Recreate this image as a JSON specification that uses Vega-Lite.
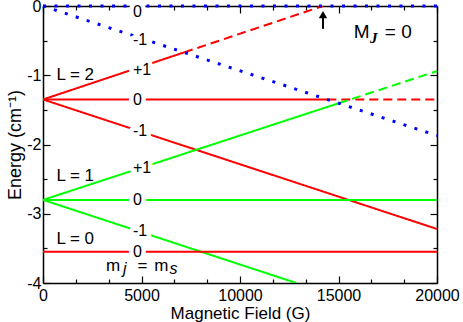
{
  "$schema": "https://vega.github.io/schema/vega-lite/v6.json",
  "autosize": "none",
  "width": 394,
  "height": 277,
  "padding": {"left": 43, "top": 6, "right": 26, "bottom": 39},
  "background": "white",
  "config": {
    "view": {"stroke": null},
    "font": "Liberation Sans",
    "axis": {"grid": false, "labelFont": "Liberation Sans", "titleFont": "Liberation Sans", "labelColor": "black", "titleColor": "black", "tickColor": "black", "domainColor": "black", "titleFontWeight": "normal"}
  },
  "datasets": {
    "levels": [
      {"seg": "L2 +1 a", "L": "L2", "part": "solid", "x": 0, "y": -1.35},
      {"seg": "L2 +1 a", "L": "L2", "part": "solid", "x": 7160, "y": -0.67},
      {"seg": "L2 +1 b", "L": "L2", "part": "dashed", "x": 7160, "y": -0.67},
      {"seg": "L2 +1 b", "L": "L2", "part": "dashed", "x": 14213, "y": 0},
      {"seg": "L2 0 a", "L": "L2", "part": "solid", "x": 0, "y": -1.35},
      {"seg": "L2 0 a", "L": "L2", "part": "solid", "x": 14431, "y": -1.35},
      {"seg": "L2 0 b", "L": "L2", "part": "dashed", "x": 14431, "y": -1.35},
      {"seg": "L2 0 b", "L": "L2", "part": "dashed", "x": 20000, "y": -1.35},
      {"seg": "L2 -1", "L": "L2", "part": "solid", "x": 0, "y": -1.35},
      {"seg": "L2 -1", "L": "L2", "part": "solid", "x": 20000, "y": -3.22},
      {"seg": "L1 +1 a", "L": "L1", "part": "solid", "x": 0, "y": -2.8},
      {"seg": "L1 +1 a", "L": "L1", "part": "solid", "x": 15009, "y": -1.404},
      {"seg": "L1 +1 b", "L": "L1", "part": "dashed", "x": 15009, "y": -1.404},
      {"seg": "L1 +1 b", "L": "L1", "part": "dashed", "x": 20000, "y": -0.94},
      {"seg": "L1 0", "L": "L1", "part": "solid", "x": 0, "y": -2.8},
      {"seg": "L1 0", "L": "L1", "part": "solid", "x": 20000, "y": -2.8},
      {"seg": "L1 -1", "L": "L1", "part": "solid", "x": 0, "y": -2.8},
      {"seg": "L1 -1", "L": "L1", "part": "solid", "x": 12862, "y": -4.0},
      {"seg": "L0 0", "L": "L0", "part": "solid", "x": 0, "y": -3.55},
      {"seg": "L0 0", "L": "L0", "part": "solid", "x": 20000, "y": -3.55}
    ],
    "dots": [
      {"seg": "d0", "x": 0, "y": 0},
      {"seg": "d0", "x": 20000, "y": 0},
      {"seg": "d1", "x": 0, "y": 0},
      {"seg": "d1", "x": 20000, "y": -1.871}
    ],
    "mlabels": [
      {"text": "0", "x": 4570, "y": -0.087},
      {"text": "-1", "x": 4570, "y": -0.491},
      {"text": "+1", "x": 4570, "y": -0.924},
      {"text": "0", "x": 4570, "y": -1.357},
      {"text": "-1", "x": 4570, "y": -1.805},
      {"text": "+1", "x": 4570, "y": -2.339},
      {"text": "0", "x": 4570, "y": -2.8},
      {"text": "-1", "x": 4570, "y": -3.25},
      {"text": "0", "x": 4570, "y": -3.55}
    ],
    "notes": [
      {"text": "L = 2", "x": 680, "y": -0.99},
      {"text": "L = 1", "x": 680, "y": -2.45},
      {"text": "L = 0", "x": 680, "y": -3.36},
      {"text": "m", "x": 3200, "y": -3.75},
      {"text": "=", "x": 4800, "y": -3.75},
      {"text": "m", "x": 5650, "y": -3.75}
    ],
    "subs": [
      {"text": "j", "x": 4060, "y": -3.8},
      {"text": "s", "x": 6420, "y": -3.8}
    ],
    "title": [
      {"text": "M", "x": 15780, "y": -0.37},
      {"text": "= 0", "x": 17350, "y": -0.37}
    ],
    "titlesub": [
      {"text": "J", "x": 16600, "y": -0.46}
    ],
    "arrow": [
      {"x": 14213, "y": -0.33, "y2": -0.15}
    ],
    "arrowhead": [
      {"x": 14213, "y": -0.125}
    ]
  },
  "resolve": {"axis": {"x": "independent", "y": "independent"}},
  "layer": [
    {
      "data": {"name": "levels"},
      "mark": {"type": "line", "strokeWidth": 2, "clip": true},
      "encoding": {
        "x": {"field": "x", "type": "quantitative", "scale": {"domain": [0, 20000], "nice": false, "zero": false},
          "axis": {"orient": "bottom", "values": [0, 5000, 10000, 15000, 20000], "format": "d", "tickSize": -7, "tickWidth": 1.2, "labelPadding": 11, "labelFontSize": 16, "title": "Magnetic Field (G)", "titleFontSize": 17, "titlePadding": 2, "domainWidth": 1.5, "labelFlush": false}},
        "y": {"field": "y", "type": "quantitative", "scale": {"domain": [-4, 0], "nice": false, "zero": false},
          "axis": {"orient": "left", "values": [0, -1, -2, -3, -4], "labelExpr": "datum.value == 0 ? '0' : '-' + abs(datum.value)", "tickSize": -7, "tickWidth": 1.2, "labelPadding": 9, "labelFontSize": 16, "title": "Energy   (cm⁻¹)", "titleFontSize": 18, "titlePadding": 2, "domainWidth": 1.5, "labelFlush": false}},
        "detail": {"field": "seg"},
        "color": {"field": "L", "type": "nominal", "scale": {"domain": ["L0", "L1", "L2"], "range": ["#ff0000", "#00ff00", "#ff0000"]}, "legend": null},
        "strokeDash": {"field": "part", "type": "nominal", "scale": {"domain": ["solid", "dashed"], "range": [[1, 0], [9, 5]]}, "legend": null}
      }
    },
    {
      "data": {"name": "dots"},
      "mark": {"type": "line", "strokeWidth": 3, "color": "#0000ff", "strokeDash": [3, 8.5], "strokeCap": "butt"},
      "encoding": {
        "x": {"field": "x", "type": "quantitative", "axis": {"orient": "top", "values": [0, 5000, 10000, 15000, 20000], "labels": false, "tickSize": -7, "tickWidth": 1.2, "title": null, "domainWidth": 1.5}},
        "y": {"field": "y", "type": "quantitative", "axis": {"orient": "right", "values": [0, -1, -2, -3, -4], "labels": false, "tickSize": -7, "tickWidth": 1.2, "title": null, "domainWidth": 1.5}},
        "detail": {"field": "seg"}
      }
    },
    {
      "data": {"name": "mlabels"},
      "mark": {"type": "text", "align": "left", "baseline": "middle", "fontSize": 16, "font": "Liberation Sans", "fill": "white", "stroke": "white", "strokeWidth": 9, "strokeJoin": "round"},
      "encoding": {
        "x": {"field": "x", "type": "quantitative", "axis": {"orient": "bottom", "values": [1666.67, 3333.33, 6666.67, 8333.33, 11666.67, 13333.33, 16666.67, 18333.33], "labels": false, "tickSize": -4, "tickWidth": 1.2, "domain": false, "title": null}},
        "y": {"field": "y", "type": "quantitative", "axis": {"orient": "left", "values": [-0.5, -1.5, -2.5, -3.5], "labels": false, "tickSize": -4, "tickWidth": 1.2, "domain": false, "title": null}},
        "text": {"field": "text"}
      }
    },
    {
      "data": {"name": "mlabels"},
      "mark": {"type": "text", "align": "left", "baseline": "middle", "fontSize": 16, "font": "Liberation Sans", "color": "black"},
      "encoding": {
        "x": {"field": "x", "type": "quantitative", "axis": {"orient": "top", "values": [1666.67, 3333.33, 6666.67, 8333.33, 11666.67, 13333.33, 16666.67, 18333.33], "labels": false, "tickSize": -4, "tickWidth": 1.2, "domain": false, "title": null}},
        "y": {"field": "y", "type": "quantitative", "axis": {"orient": "right", "values": [-0.5, -1.5, -2.5, -3.5], "labels": false, "tickSize": -4, "tickWidth": 1.2, "domain": false, "title": null}},
        "text": {"field": "text"}
      }
    },
    {
      "data": {"name": "notes"},
      "mark": {"type": "text", "align": "left", "baseline": "middle", "fontSize": 17, "font": "Liberation Sans", "color": "black"},
      "encoding": {
        "x": {"field": "x", "type": "quantitative", "axis": null},
        "y": {"field": "y", "type": "quantitative", "axis": null},
        "text": {"field": "text"}
      }
    },
    {
      "data": {"name": "subs"},
      "mark": {"type": "text", "align": "left", "baseline": "middle", "fontSize": 16, "fontStyle": "italic", "font": "Liberation Sans", "color": "black"},
      "encoding": {
        "x": {"field": "x", "type": "quantitative", "axis": null},
        "y": {"field": "y", "type": "quantitative", "axis": null},
        "text": {"field": "text"}
      }
    },
    {
      "data": {"name": "title"},
      "mark": {"type": "text", "align": "left", "baseline": "middle", "fontSize": 19, "font": "Liberation Sans", "color": "black"},
      "encoding": {
        "x": {"field": "x", "type": "quantitative", "axis": null},
        "y": {"field": "y", "type": "quantitative", "axis": null},
        "text": {"field": "text"}
      }
    },
    {
      "data": {"name": "titlesub"},
      "mark": {"type": "text", "align": "left", "baseline": "middle", "fontSize": 15, "fontStyle": "italic", "fontWeight": "bold", "font": "Liberation Serif", "color": "black"},
      "encoding": {
        "x": {"field": "x", "type": "quantitative", "axis": null},
        "y": {"field": "y", "type": "quantitative", "axis": null},
        "text": {"field": "text"}
      }
    },
    {
      "data": {"name": "arrow"},
      "mark": {"type": "rule", "strokeWidth": 2, "color": "black"},
      "encoding": {
        "x": {"field": "x", "type": "quantitative", "axis": null},
        "y": {"field": "y", "type": "quantitative", "axis": null},
        "y2": {"field": "y2"}
      }
    },
    {
      "data": {"name": "arrowhead"},
      "mark": {"type": "point", "shape": "triangle-up", "filled": true, "size": 70, "color": "black", "opacity": 1},
      "encoding": {
        "x": {"field": "x", "type": "quantitative", "axis": null},
        "y": {"field": "y", "type": "quantitative", "axis": null}
      }
    }
  ]
}
